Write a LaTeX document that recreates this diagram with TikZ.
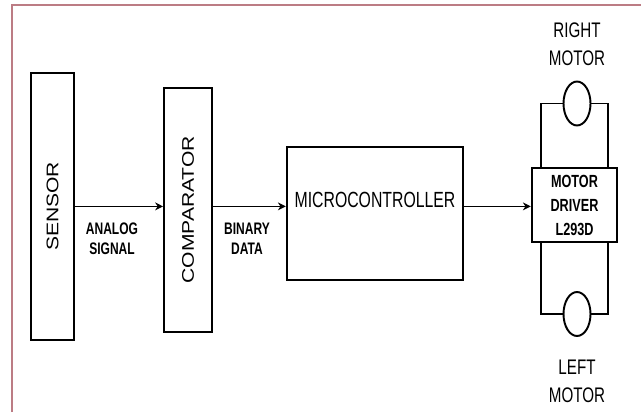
\documentclass[tikz,border=0pt]{standalone}
\usepackage{graphicx}
\usepackage{fontspec}
\setmainfont{Liberation Sans}
\newfontfamily\condsans{Liberation Sans}[FakeStretch=0.72]
\usetikzlibrary{arrows.meta,shapes.geometric,positioning}
\definecolor{framered}{RGB}{188,124,132}

\begin{document}
\begin{tikzpicture}[x=0.02cm, y=-0.02cm,
    block/.style={draw, line width=1.1pt, inner sep=0pt},
    vtext/.style={font=\fontsize{12}{14}\selectfont},
    lbl/.style={font=\condsans\bfseries\fontsize{9.5}{11.3}\selectfont, align=center},
    mtext/.style={font=\condsans\fontsize{12}{16}\selectfont, align=center},
    motor/.style={draw, ellipse, line width=1.1pt, minimum width=0.54cm, minimum height=0.88cm, inner sep=0pt},
    arr/.style={-{Stealth[length=4.5pt,width=4.5pt]}, line width=1pt},
    wire/.style={line width=1.1pt}
]
\useasboundingbox (0,0) rectangle (641,412);
\draw[framered, line width=1.2pt] (12.3,412) -- (12.3,5.3) -- (641,5.3);

% blocks
\node[block, vtext, minimum width=0.86cm, minimum height=5.34cm] (sensor) at (52.5,206.4) {\rotatebox{90}{\scalebox{1}[0.8]{SENSOR}}};
\node[block, vtext, minimum width=0.96cm, minimum height=4.88cm] (comp) at (188,209.7) {\rotatebox{90}{\scalebox{1}[0.8]{COMPARATOR}}\hspace{0.34cm}};
\node[block, minimum width=3.53cm, minimum height=2.67cm] (micro) at (375,213.3) {};
\node[font=\condsans\fontsize{12.5}{14}\selectfont] (microtxt) at ([yshift=0.26cm]micro.center) {MICROCONTROLLER};
\node[block, font=\condsans\bfseries\fontsize{10}{13.6}\selectfont, align=center, minimum width=1.71cm, minimum height=1.48cm] (driver) at (574.5,205.3) {MOTOR\\DRIVER\\L293D};

% motors
\node[motor] (rm) at (577,103.5) {};
\node[motor] (lm) at (577,314) {};
\node[mtext] (rmtxt) at (577,44) {RIGHT\\MOTOR};
\node[mtext] (lmtxt) at (577,381) {LEFT\\MOTOR};

% signal labels
\node[lbl] (analog) at (112,239) {ANALOG\\SIGNAL};
\node[lbl] (binary) at (247,239) {BINARY\\DATA};

% connections
\draw[arr] (sensor.east) -- (sensor.east -| comp.west);
\draw[arr] (comp.east |- sensor.east) -- (sensor.east -| micro.west);
\draw[arr] (micro.east |- sensor.east) -- (sensor.east -| driver.west);

\draw[wire] (rm.west) -| ([xshift=0.212cm]driver.north west);
\draw[wire] (rm.east) -| ([xshift=-0.212cm]driver.north east);
\draw[wire] (lm.west) -| ([xshift=0.212cm]driver.south west);
\draw[wire] (lm.east) -| ([xshift=-0.212cm]driver.south east);
\end{tikzpicture}
\end{document}
